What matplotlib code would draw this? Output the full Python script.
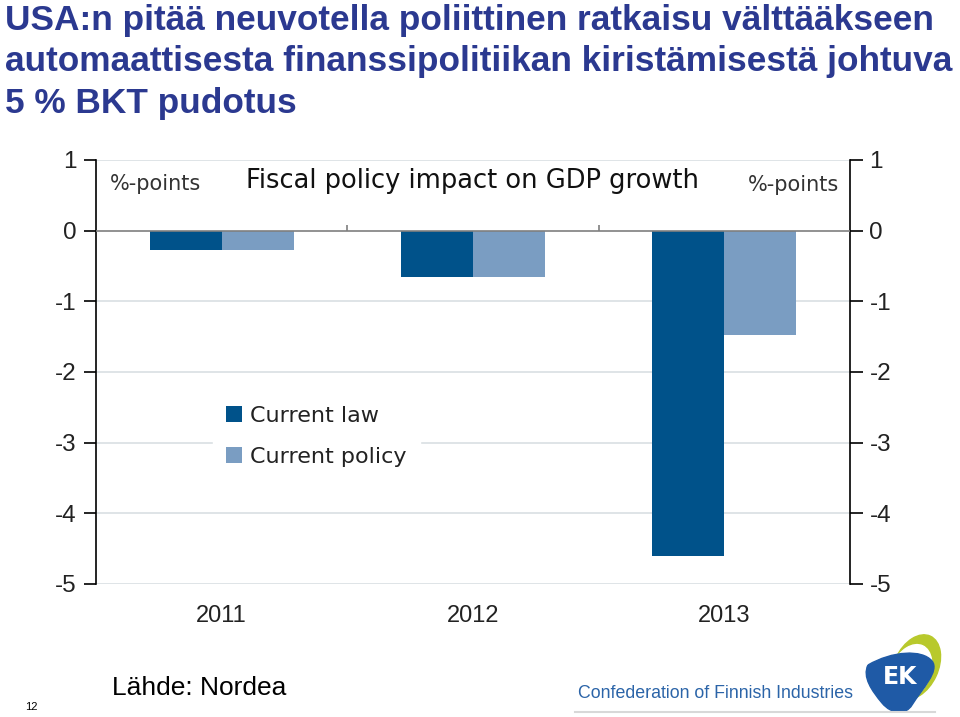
import matplotlib.pyplot as plt
from matplotlib.patches import PathPatch, Ellipse
from matplotlib.path import Path
import numpy as np

# data
years = ['2011', '2012', '2013']
current_law = [-0.27, -0.65, -4.6]
current_policy = [-0.27, -0.65, -1.47]
yticks = [1, 0, -1, -2, -3, -4, -5]

title_lines = [
    'USA:n pitää neuvotella poliittinen ratkaisu välttääkseen',
    'automaattisesta finanssipolitiikan kiristämisestä johtuva',
    '5 % BKT pudotus',
]

dark = '#00528a'
light = '#7a9dc2'
head = '#2b3990'

fig = plt.figure(figsize=(9.6, 7.17), dpi=100)
W, H = 960, 717


def fx(px):
    return px / W


def fy(py):
    return 1 - py / H


# header
for i, line in enumerate(title_lines):
    fig.text(fx(5), fy(30 + i * 41.5), line, family='Liberation Sans',
             weight='bold', fontsize=25.4, color=head, va='baseline')

# chart
left, right, top, bottom = 96, 850, 160, 584
ax = fig.add_axes([fx(left), fy(bottom), fx(right - left),
                   (bottom - top) / H])
x = np.arange(len(years))
w = 0.287
ax.bar(x - w / 2, current_law, w, color=dark, label='Current law',
       zorder=3)
ax.bar(x + w / 2, current_policy, w, color=light, label='Current policy',
       zorder=3)
ax.set_xlim(-0.5, 2.5)
ax.set_ylim(-5, 1)
ax.set_yticks(yticks)
ax.set_yticklabels([str(t) for t in yticks])
for t in yticks:
    if t == 0:
        continue
    ax.axhline(t, color='#d9dfe3', lw=1.2, zorder=1)
ax.axhline(0, color='#7f7f7f', lw=1.2, zorder=4)
ax.vlines([0.5, 1.5], 0, 0.08, color='#7f7f7f', lw=1.2, zorder=4)

for s in ['top', 'bottom']:
    ax.spines[s].set_visible(False)
for s in ['left', 'right']:
    ax.spines[s].set_color('black')
    ax.spines[s].set_linewidth(1.2)
ax.tick_params(axis='y', which='both', left=True, right=True,
               labelleft=True, labelright=True, direction='out',
               length=9, width=1.2, labelsize=17.5, pad=5)
ax.set_xticks(x)
ax.set_xticklabels(years)
ax.tick_params(axis='x', length=0, labelsize=17, pad=15)
for lab in ax.get_yticklabels() + ax.get_xticklabels():
    lab.set_family('Liberation Sans')
    lab.set_color('#222222')

# inner chart title
ax.text(0.018, 0.944, '%-points', transform=ax.transAxes, fontsize=15,
        color='#333333', va='center', ha='left')
ax.text(0.5, 0.95, 'Fiscal policy impact on GDP growth',
        transform=ax.transAxes, fontsize=18.5, color='#111111',
        va='center', ha='center')
ax.text(0.985, 0.94, '%-points', transform=ax.transAxes, fontsize=15,
        color='#333333', va='center', ha='right')

leg = ax.legend(loc='upper left', bbox_to_anchor=(0.14, 0.478),
                frameon=True, facecolor='white', edgecolor='white',
                framealpha=1, fontsize=16, handlelength=0.7,
                handleheight=0.7, handletextpad=0.4, labelspacing=0.95,
                borderpad=0.6, fancybox=False)
leg.set_zorder(5)
for t in leg.get_texts():
    t.set_color('#222222')

# footer
fig.text(fx(112), fy(695), 'Lähde: Nordea', family='Liberation Sans',
         fontsize=19, va='baseline', color='black')
fig.text(fx(25), fy(710), '12', family='Liberation Sans', fontsize=8,
         va='baseline', color='black')
fig.text(fx(578), fy(698), 'Confederation of Finnish Industries',
         family='Liberation Sans', fontsize=12.8,
         color='#2b64a8', va='baseline')
fig.add_artist(plt.Line2D([fx(575), fx(935)], [fy(712), fy(712)],
                          color='#d8d8d8', lw=1.5))

# EK logo
lg = fig.add_axes([fx(862), fy(717), fx(80), 85 / H])
lg.set_xlim(0, 80)
lg.set_ylim(0, 85)
lg.axis('off')
lg.add_patch(Ellipse((54, 50), 44, 68, angle=-25, color='#b8c92c'))
lg.add_patch(Ellipse((48, 44), 39, 60, angle=-25, color='white'))
verts = [(6, 52), (30, 66), (60, 68), (70, 56),
         (78, 46), (60, 28), (50, 12),
         (44, 2), (30, 2), (20, 14),
         (10, 26), (0, 40), (6, 52)]
codes = [Path.MOVETO] + [Path.CURVE4] * 12
lg.add_patch(PathPatch(Path(verts, codes), color='#1f5aa6'))
lg.text(38, 40, 'EK', color='white', fontsize=17, weight='bold',
        ha='center', va='center', family='DejaVu Sans')

fig.savefig('out.png', dpi=100)
